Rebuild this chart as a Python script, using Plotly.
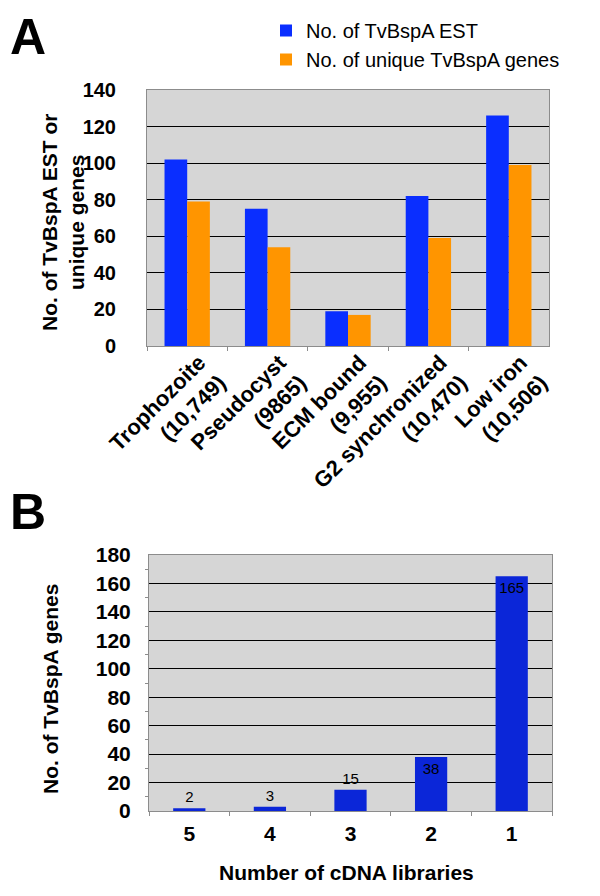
import plotly.graph_objects as go

# Panel A: TvBspA ESTs / unique genes per cDNA library
libraries = ["Trophozoite<br>(10,749)", "Pseudocyst<br>(9865)", "ECM bound<br>(9,955)",
             "G2 synchronized<br>(10,470)", "Low iron<br>(10,506)"]
est_counts = [102, 75, 19, 82, 126]
unique_genes = [79, 54, 17, 59, 99]

# Panel B: genes found in N cDNA libraries
n_libraries = ["5", "4", "3", "2", "1"]
genes_per_n = [2, 3, 15, 38, 165]

FONT = "Liberation Sans, Arial, sans-serif"
W, H = 600, 896
BG = "#d6d6d6"
FRAME = "#8c8c8c"
PAGE_OFFSET = 8  # default body margin of the html page


def px_x(x):
    return (x - PAGE_OFFSET) / W


def px_y(y):
    return 1 - (y - PAGE_OFFSET) / H


fig = go.Figure()

fig.add_trace(go.Bar(
    x=libraries, y=est_counts, name="No. of TvBspA EST",
    marker=dict(color="#0a2eff", line=dict(width=0)),
    xaxis="x", yaxis="y",
))
fig.add_trace(go.Bar(
    x=libraries, y=unique_genes, name="No. of unique TvBspA genes",
    marker=dict(color="#ff9500", line=dict(width=0)),
    xaxis="x", yaxis="y",
))
fig.add_trace(go.Bar(
    x=n_libraries, y=genes_per_n, showlegend=False,
    marker=dict(color="#0b26d8", line=dict(width=0)),
    text=[str(v) for v in genes_per_n],
    textposition=["outside", "outside", "outside", "inside", "inside"],
    insidetextanchor="end", textangle=0,
    textfont=dict(family=FONT, size=15, color="black"),
    cliponaxis=False,
    width=0.4,
    xaxis="x2", yaxis="y2",
))

fig.update_layout(
    width=W, height=H,
    margin=dict(l=0, r=0, t=0, b=0),
    paper_bgcolor="white",
    font=dict(family=FONT, color="black"),
    barmode="group",
    bargap=0.436,
    bargroupgap=0,
    showlegend=True,
    legend=dict(
        x=px_x(266), y=px_y(11), xanchor="left", yanchor="top",
        font=dict(family=FONT, size=20, color="black"),
        bgcolor="rgba(0,0,0,0)", tracegroupgap=0,
    ),
    xaxis=dict(
        domain=[px_x(147), px_x(549)], anchor="y",
        showline=True, linecolor=FRAME, mirror=True,
        ticks="outside", tickson="boundaries", ticklen=4, tickcolor=FRAME,
        tickangle=-45, tickfont=dict(family=FONT, size=22, color="black", weight="bold"),
        ticklabelshift=12, ticklabelstandoff=-6,
        automargin=False,
    ),
    yaxis=dict(
        domain=[px_y(346), px_y(90)], anchor="x",
        range=[0, 140], dtick=20,
        showgrid=True, gridcolor="black", gridwidth=1,
        showline=True, linecolor=FRAME, mirror=True,
        ticks="", ticklabelstandoff=26,
        tickfont=dict(family=FONT, size=20, color="black", weight="bold"),
        automargin=False, zeroline=False,
    ),
    xaxis2=dict(
        domain=[px_x(149), px_x(552)], anchor="y2",
        showline=True, linecolor=FRAME, mirror=True,
        ticks="outside", tickson="boundaries", ticklen=4, tickcolor=FRAME,
        tickfont=dict(family=FONT, size=21, color="black", weight="bold"),
        ticklabelstandoff=4, automargin=False,
    ),
    yaxis2=dict(
        domain=[px_y(811), px_y(555)], anchor="x2",
        range=[0, 180], dtick=20,
        showgrid=True, gridcolor="black", gridwidth=1,
        showline=True, linecolor=FRAME, mirror=True,
        ticks="", ticklabelstandoff=13,
        minor=dict(dtick=10, ticks="outside", ticklen=3, tickcolor=FRAME),
        tickfont=dict(family=FONT, size=21, color="black", weight="bold"),
        automargin=False, zeroline=False,
    ),
    plot_bgcolor=BG,
)

annotations = [
    dict(text="<b>A</b>", x=px_x(8), y=px_y(37), xanchor="left", yanchor="middle",
         font=dict(family=FONT, size=50)),
    dict(text="<b>B</b>", x=px_x(8), y=px_y(482), xanchor="left", yanchor="top",
         font=dict(family=FONT, size=50)),
    dict(text="<b>No. of TvBspA EST or<br>unique genes</b>", textangle=-90,
         x=px_x(63), y=px_y(222), xanchor="center", yanchor="middle",
         font=dict(family=FONT, size=21)),
    dict(text="<b>No. of TvBspA genes</b>", textangle=-90,
         x=px_x(50), y=px_y(689), xanchor="center", yanchor="middle",
         font=dict(family=FONT, size=21)),
    dict(text="<b>Number of cDNA libraries</b>",
         x=px_x(346), y=px_y(872), xanchor="center", yanchor="middle",
         font=dict(family=FONT, size=21)),
]
for a in annotations:
    a.update(xref="paper", yref="paper", showarrow=False)
fig.update_layout(annotations=annotations)

fig.write_html("out.html")
